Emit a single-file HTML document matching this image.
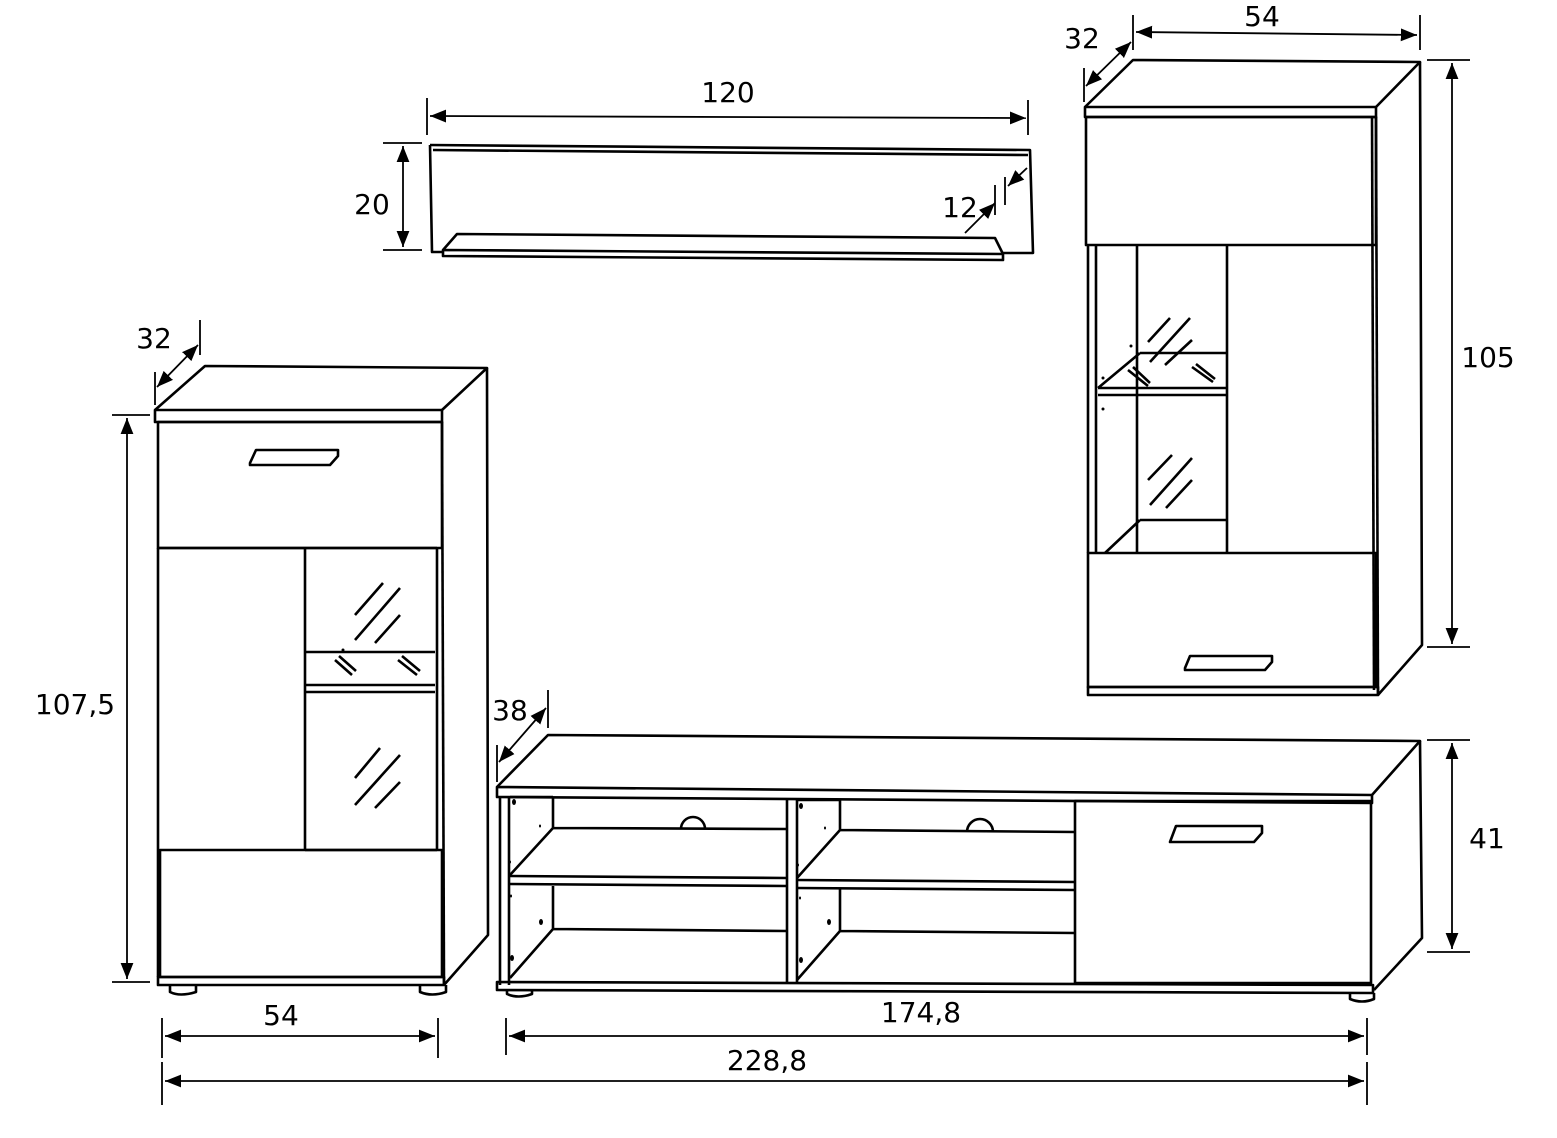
<!DOCTYPE html>
<html><head><meta charset="utf-8"><style>
html,body{margin:0;padding:0;background:#fff}
svg{display:block}
text{font-family:"DejaVu Sans","Liberation Sans",sans-serif;font-size:28px;fill:#000}
</style></head><body>
<svg width="1557" height="1138" viewBox="0 0 1557 1138" xmlns="http://www.w3.org/2000/svg">
<defs>
<marker id="a" viewBox="0 0 10 10" refX="10" refY="5" markerWidth="9" markerHeight="9" orient="auto-start-reverse"><path d="M0,1 L10,5 L0,9 z" fill="#000"/></marker>
</defs>
<g fill="none" stroke="#000" stroke-width="2.6" stroke-linejoin="round">

<!-- Wall shelf -->
<path d="M430,145 L1030,150 L1033,253 L1003,253"/>
<path d="M430,145 L432,252 L443,252"/>
<path d="M433,150 L1028,155"/>
<path d="M443,250 L1003,254 L1003,260 L443,256 Z"/>
<path d="M443,250 L457,234 L995,238 L1003,254"/>

<!-- Top-right cabinet -->
<path d="M1085,107 L1133,60 L1420,62 L1376,107"/>
<path d="M1085,107 L1376,107 L1376,117 L1085,117 Z"/>
<path d="M1420,62 L1422,645 L1378,695"/>
<path d="M1376,117 L1378,695"/>
<path d="M1372,117 L1374,690"/>
<rect x="1086" y="117" width="290" height="128"/>
<path d="M1088,245 L1088,553 M1096,245 L1096,553"/>
<path d="M1137,245 L1137,553 M1227,245 L1227,553"/>
<path d="M1140,353 L1227,353 M1098,388 L1140,353 M1098,388 L1227,388 M1098,395 L1227,395"/>
<path d="M1140,520 L1227,520 M1105,553 L1140,520"/>
<path d="M1148,342 L1170,318 M1150,362 L1190,318 M1165,365 L1192,340"/>
<path d="M1148,480 L1172,455 M1150,505 L1192,458 M1166,508 L1192,480"/>
<path d="M1128,370 L1148,386 M1133,367 L1150,383 M1192,367 L1213,382 M1196,364 L1215,379"/>
<rect x="1088" y="553" width="288" height="134"/>
<rect x="1088" y="687" width="290" height="8"/>
<path d="M1185,668 L1190,656 L1272,656 L1272,662 L1265,670 L1185,670 Z"/>

<!-- Left cabinet -->
<path d="M155,410 L205,366 L487,368 L442,410"/>
<path d="M155,410 L442,410 L442,422 L155,422 Z"/>
<path d="M487,368 L488,935 L444,985"/>
<path d="M442,422 L444,985"/>
<rect x="158" y="422" width="284" height="126"/>
<path d="M158,548 L158,977 M305,548 L305,850 M158,548 L437,548"/>
<path d="M437,548 L437,850 M305,850 L437,850"/>
<path d="M305,652 L435,652 M305,685 L435,685 M305,692 L435,692"/>
<path d="M355,615 L383,583 M355,640 L400,588 M375,643 L400,615"/>
<path d="M355,778 L380,748 M355,805 L400,755 M375,808 L400,782"/>
<path d="M335,660 L352,675 M339,656 L356,671 M398,660 L417,675 M402,656 L420,671"/>
<rect x="160" y="850" width="282" height="127"/>
<rect x="158" y="977" width="286" height="8"/>
<path d="M170,985 L170,992 Q180,997 196,992 L196,985 M420,985 L420,992 Q432,997 446,992 L446,985"/>
<path d="M250,463 L256,450 L338,450 L338,456 L330,465 L250,465 Z"/>

<!-- TV unit -->
<path d="M497,787 L548,735 L1420,741 L1372,795"/>
<path d="M497,787 L1372,795 L1372,803 L497,797 Z"/>
<path d="M1420,741 L1422,938 L1374,990"/>
<path d="M500,797 L500,985 M509,797 L509,985"/>
<path d="M510,797 L553,797 M553,797 L553,828 M553,828 L787,829 M510,875 L553,828"/>
<path d="M510,876 L787,878 M510,884 L787,886"/>
<path d="M553,886 L553,929 M553,929 L787,931 M510,978 L553,929"/>
<path d="M787,800 L787,983 M797,800 L797,983"/>
<path d="M797,800 L840,800 L840,830 L1075,832 M797,878 L840,830"/>
<path d="M797,880 L1075,882 M797,888 L1075,890"/>
<path d="M840,888 L840,931 L1075,933 M797,980 L840,931"/>
<path d="M681,829 A12,12 0 0 1 705,829 M967,832 A12,12 0 0 1 993,832"/>
<rect x="1075" y="801" width="296" height="182"/>
<path d="M497,982 L1373,985 L1373,993 L497,990 Z"/>
<path d="M507,990 L507,994 Q518,999 532,994 L532,990 M1350,993 L1350,999 Q1362,1004 1374,999 L1374,993"/>
<path d="M1170,842 L1176,826 L1262,826 L1262,833 L1254,842 Z"/>
</g>

<g fill="#000">
<ellipse cx="514" cy="802" rx="2" ry="3"/><ellipse cx="540" cy="826" rx="1" ry="1.5"/><ellipse cx="510" cy="862" rx="1" ry="1.5"/><ellipse cx="541" cy="922" rx="2" ry="3"/><ellipse cx="512" cy="958" rx="2" ry="3"/><ellipse cx="511" cy="896" rx="1" ry="1.5"/>
<ellipse cx="801" cy="806" rx="2" ry="3"/><ellipse cx="825" cy="828" rx="1" ry="1.5"/><ellipse cx="798" cy="865" rx="1" ry="1.5"/><ellipse cx="829" cy="922" rx="2" ry="3"/><ellipse cx="801" cy="960" rx="2" ry="3"/><ellipse cx="800" cy="898" rx="1" ry="1.5"/>
<circle cx="1131" cy="346" r="1.5"/><circle cx="1103" cy="378" r="1.5"/><circle cx="1103" cy="409" r="1.5"/><circle cx="343" cy="650" r="1.5"/>
</g>

<!-- dimension lines -->
<g fill="none" stroke="#000" stroke-width="1.8">
<path d="M427,98 L427,135 M1028,100 L1028,135"/>
<path d="M430,116 L1026,118" marker-start="url(#a)" marker-end="url(#a)"/>
<path d="M383,143 L422,143 M383,250 L422,250"/>
<path d="M403,146 L403,247" marker-start="url(#a)" marker-end="url(#a)"/>
<path d="M965,233 L995,203" marker-end="url(#a)"/><path d="M1027,168 L1008,186" marker-end="url(#a)"/>
<path d="M995,185 L995,215 M1005,177 L1005,205"/>
<path d="M1133,15 L1133,50 M1420,15 L1420,50"/>
<path d="M1136,32 L1417,35" marker-start="url(#a)" marker-end="url(#a)"/>
<path d="M1084,68 L1084,102"/>
<path d="M1086,86 L1131,42" marker-start="url(#a)" marker-end="url(#a)"/>
<path d="M1427,60 L1470,60 M1427,647 L1470,647"/>
<path d="M1452,63 L1452,644" marker-start="url(#a)" marker-end="url(#a)"/>
<path d="M200,320 L200,355 M155,372 L155,405"/>
<path d="M157,387 L198,345" marker-start="url(#a)" marker-end="url(#a)"/>
<path d="M112,415 L150,415 M112,982 L150,982"/>
<path d="M127,418 L127,979" marker-start="url(#a)" marker-end="url(#a)"/>
<path d="M548,690 L548,728 M497,745 L497,782"/>
<path d="M499,762 L546,708" marker-start="url(#a)" marker-end="url(#a)"/>
<path d="M1427,740 L1470,740 M1427,952 L1470,952"/>
<path d="M1452,743 L1452,949" marker-start="url(#a)" marker-end="url(#a)"/>
<path d="M162,1018 L162,1058 M438,1018 L438,1058"/>
<path d="M165,1036 L435,1036" marker-start="url(#a)" marker-end="url(#a)"/>
<path d="M506,1018 L506,1055 M1367,1018 L1367,1055"/>
<path d="M509,1036 L1364,1036" marker-start="url(#a)" marker-end="url(#a)"/>
<path d="M162,1062 L162,1105 M1367,1062 L1367,1105"/>
<path d="M165,1081 L1364,1081" marker-start="url(#a)" marker-end="url(#a)"/>
</g>

<g>
<text x="728" y="102" text-anchor="middle">120</text>
<text x="372" y="214" text-anchor="middle">20</text>
<text x="960" y="217" text-anchor="middle">12</text>
<text x="1262" y="26" text-anchor="middle">54</text>
<text x="1082" y="48" text-anchor="middle">32</text>
<text x="1488" y="367" text-anchor="middle">105</text>
<text x="154" y="348" text-anchor="middle">32</text>
<text x="75" y="714" text-anchor="middle">107,5</text>
<text x="510" y="720" text-anchor="middle">38</text>
<text x="1487" y="848" text-anchor="middle">41</text>
<text x="281" y="1025" text-anchor="middle">54</text>
<text x="921" y="1022" text-anchor="middle">174,8</text>
<text x="767" y="1070" text-anchor="middle">228,8</text>
</g>
</svg>
</body></html>
